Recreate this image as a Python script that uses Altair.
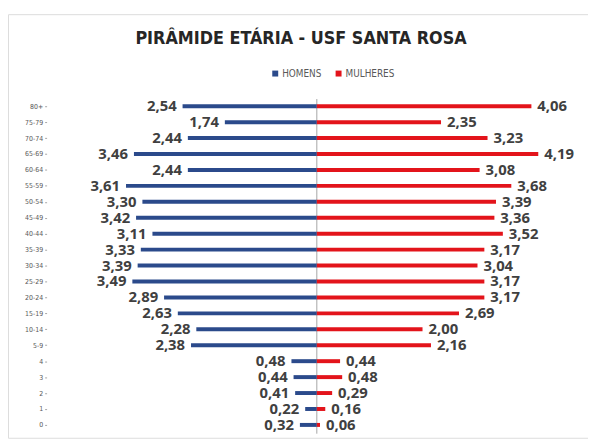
import json
import altair as alt
import pandas as pd

# ---- data ----
faixas = ["80+", "75-79", "70-74", "65-69", "60-64", "55-59", "50-54", "45-49",
          "40-44", "35-39", "30-34", "25-29", "20-24", "15-19", "10-14", "5-9",
          "4", "3", "2", "1", "0"]
homens = [2.54, 1.74, 2.44, 3.46, 2.44, 3.61, 3.30, 3.42, 3.11, 3.33, 3.39,
          3.49, 2.89, 2.63, 2.28, 2.38, 0.48, 0.44, 0.41, 0.22, 0.32]
mulheres = [4.06, 2.35, 3.23, 4.19, 3.08, 3.68, 3.39, 3.36, 3.52, 3.17, 3.04,
            3.17, 3.17, 2.69, 2.00, 2.16, 0.44, 0.48, 0.29, 0.16, 0.06]
series = ["HOMENS", "MULHERES"]
cores = ["#2B4A8B", "#E3141B"]
titulo = "PIRÂMIDE ETÁRIA - USF SANTA ROSA"

n = len(faixas)


def fmt(v):
    return f"{v:.2f}".replace(".", ",")


rows = []
for i, (f, h, m) in enumerate(zip(faixas, homens, mulheres)):
    pos = n - 1 - i
    rows.append({"faixa": f, "pos": pos, "sexo": series[0], "valor": -h, "rotulo": fmt(h)})
    rows.append({"faixa": f, "pos": pos, "sexo": series[1], "valor": m, "rotulo": fmt(m)})
df = pd.DataFrame(rows)

labels_bottom_up = list(reversed(faixas))
narrow = "Liberation Sans Narrow, DejaVu Sans Condensed, sans-serif"

xscale = alt.Scale(domain=[-5.843, 5.131], nice=False, zero=False, padding=0)
yscale = alt.Scale(domain=[-0.8075, 25.776], nice=False, zero=False, padding=0)

yaxis = alt.Axis(values=list(range(n)),
                 labelExpr=json.dumps(labels_bottom_up) + "[datum.value]",
                 grid=False, domain=False, ticks=True, tickSize=2,
                 tickColor="#A6A6A6", labelPadding=2, offset=-39,
                 labelFont=narrow, labelFontSize=7, labelColor="#595959",
                 title=None)

base = alt.Chart(df)

bars = base.mark_bar(size=4).encode(
    x=alt.X("valor:Q", scale=xscale, axis=None),
    x2=alt.datum(0),
    y=alt.Y("pos:Q", scale=yscale, axis=yaxis),
    color=alt.Color("sexo:N", scale=alt.Scale(domain=series, range=cores),
                    legend=alt.Legend(orient="none", legendX=265, legendY=55,
                                      direction="horizontal", title=None,
                                      symbolType="square", symbolSize=36,
                                      symbolStrokeWidth=0,
                                      labelFontSize=10, labelColor="#595959",
                                      labelFont=narrow,
                                      columnPadding=12, labelOffset=2)),
)

center = base.transform_aggregate(
    lo="min(pos)", hi="max(pos)"
).transform_calculate(
    y0="datum.lo - 0.55", y1="datum.hi + 0.45", zero="0"
).mark_rule(color="#A6A6A6", strokeWidth=1).encode(
    x=alt.X("zero:Q", scale=xscale, axis=None),
    y=alt.Y("y0:Q", scale=yscale, axis=yaxis),
    y2="y1:Q",
)

label_font = "Open Sans, DejaVu Sans, sans-serif"

lab_h = base.transform_filter(alt.datum.sexo == series[0]).mark_text(
    align="right", baseline="middle", dx=-6, dy=0, fontSize=15, fontWeight="bold",
    font=label_font, color="#404040"
).encode(
    x=alt.X("valor:Q", scale=xscale, axis=None),
    y=alt.Y("pos:Q", scale=yscale, axis=yaxis),
    text="rotulo:N",
)

lab_m = base.transform_filter(alt.datum.sexo == series[1]).mark_text(
    align="left", baseline="middle", dx=6, dy=0, fontSize=15, fontWeight="bold",
    font=label_font, color="#404040"
).encode(
    x=alt.X("valor:Q", scale=xscale, axis=None),
    y=alt.Y("pos:Q", scale=yscale, axis=yaxis),
    text="rotulo:N",
)

chart = alt.layer(center, bars, lab_h, lab_m).properties(
    width=586,
    height=428,
    autosize="none",
    padding={"left": 0, "top": 4, "right": 0, "bottom": 0},
    title=alt.TitleParams(
        titulo, anchor="middle", frame="group", orient="top",
        font=narrow, fontSize=18, fontWeight="bold", color="#262626",
        baseline="alphabetic", offset=-48, dx=3,
    ),
).configure_view(
    stroke="#D9D9D9", strokeWidth=1
).configure(background="white")

chart.save("out.html", embed_options={"renderer": "svg", "actions": False})
